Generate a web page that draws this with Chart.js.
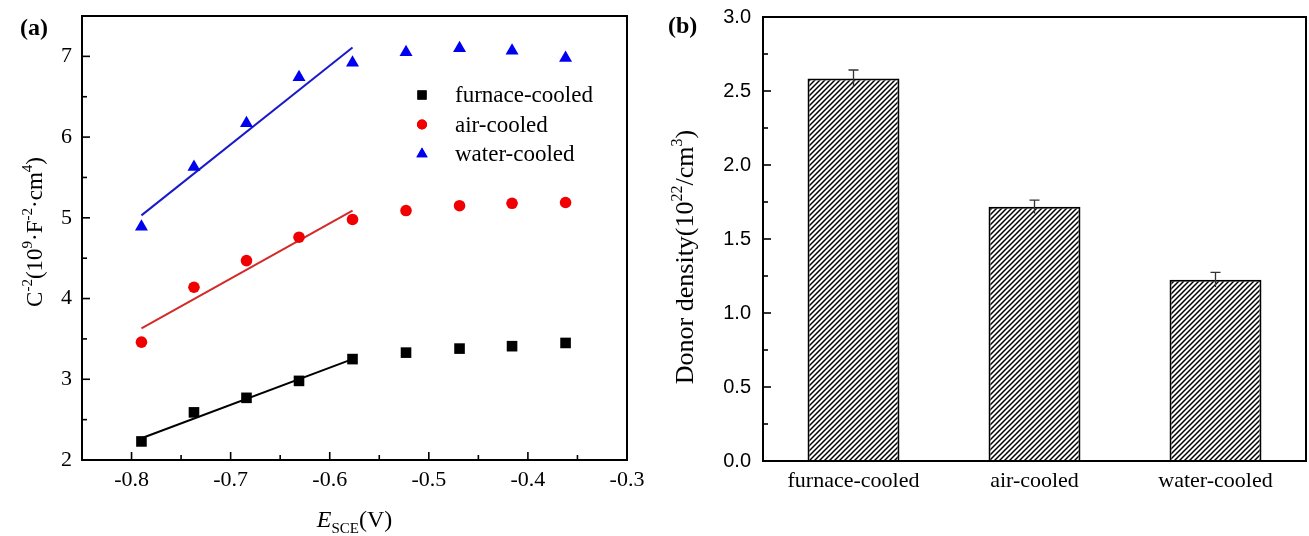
<!DOCTYPE html>
<html>
<head>
<meta charset="utf-8">
<script src="https://cdn.jsdelivr.net/npm/chart.js@4.4.0/dist/chart.umd.min.js"></script>
<style>
  body { margin: 0; background: #fff; width: 1309px; height: 536px; position: relative; overflow: hidden; }
  #wrapA { position: absolute; left: 0; top: 0; width: 660px; height: 536px; }
  #wrapB { position: absolute; left: 660px; top: 0; width: 649px; height: 536px; }
  .tag { position: absolute; font: bold 24px "Liberation Serif", serif; line-height: 1; color: #000; }
</style>
</head>
<body>
<div id="wrapA"><canvas id="chartA" width="660" height="536"></canvas></div>
<div id="wrapB"><canvas id="chartB" width="649" height="536"></canvas></div>
<div class="tag" style="left:20px;top:15px">(a)</div>
<div class="tag" style="left:668px;top:13px">(b)</div>
<script>
// (a) Mott-Schottky data
const potential = [-0.790, -0.737, -0.684, -0.631, -0.577, -0.523, -0.469, -0.416, -0.362];
const furnaceC = [2.23, 2.59, 2.77, 2.98, 3.25, 3.33, 3.38, 3.41, 3.45];
const airC = [3.46, 4.14, 4.47, 4.76, 4.98, 5.09, 5.15, 5.18, 5.19];
const waterC = [4.89, 5.63, 6.17, 6.74, 6.92, 7.05, 7.10, 7.07, 6.98];

// linear fit ends
const fitX = [-0.790, -0.577];
const furnaceFit = [2.27, 3.25];
const airFit = [3.63, 5.09];
const waterFit = [5.03, 7.11];

const xTicks = [-0.8, -0.7, -0.6, -0.5, -0.4, -0.3];
const xMinorTicks = [-0.75, -0.65, -0.55, -0.45, -0.35];
const yTicks = [2, 3, 4, 5, 6, 7];
const yMinorTicks = [2.5, 3.5, 4.5, 5.5, 6.5];

// (b) donor density
const coolingTypes = ['furnace-cooled', 'air-cooled', 'water-cooled'];
const donorDensity = [2.585, 1.718, 1.225];
const donorError = [0.057, 0.045, 0.05];
const densityTicks = [0, 0.5, 1, 1.5, 2, 2.5, 3];
const densityMinorTicks = [0.25, 0.75, 1.25, 1.75, 2.25, 2.75];

const SERIF = '"Liberation Serif", "Times New Roman", serif';
const SANS = '"Liberation Sans", Arial, sans-serif';

function pts(xs, ys) {
    return xs.map((x, i) => ({ x: x, y: ys[i] }));
}

// draws text made of pieces (superscripts, subscripts, italics), centred on x
function drawRich(ctx, parts, x, y, rot) {
    ctx.save();
    ctx.translate(x, y);
    if (rot) ctx.rotate(rot);
    let w = 0;
    parts.forEach(p => { ctx.font = p.f; p.w = ctx.measureText(p.t).width; w += p.w; });
    let cx = -w / 2;
    ctx.textAlign = 'left';
    ctx.textBaseline = 'alphabetic';
    ctx.fillStyle = '#000';
    parts.forEach(p => { ctx.font = p.f; ctx.fillText(p.t, cx, p.dy || 0); cx += p.w; });
    ctx.restore();
}

function hatchPattern() {
    const s = 5;
    const c = document.createElement('canvas');
    c.width = s; c.height = s;
    const g = c.getContext('2d');
    g.fillStyle = '#fff';
    g.fillRect(0, 0, s, s);
    g.strokeStyle = '#000';
    g.lineWidth = 1.5;
    g.beginPath();
    g.moveTo(0, s); g.lineTo(s, 0);
    g.moveTo(-1, 1); g.lineTo(1, -1);
    g.moveTo(s - 1, s + 1); g.lineTo(s + 1, s - 1);
    g.stroke();
    return g.createPattern(c, 'repeat');
}

// box frame plus inward ticks on the bottom and left axes
const framePlugin = {
    id: 'frame',
    afterDatasetsDraw(chart, args, opts) {
        const ctx = chart.ctx;
        const a = chart.chartArea;
        ctx.save();
        ctx.strokeStyle = '#000';
        ctx.lineWidth = 1.6;
        const tick = (axis, vals, len) => {
            vals.forEach(v => {
                ctx.beginPath();
                if (axis === 'x') {
                    const px = chart.scales.x.getPixelForValue(v);
                    ctx.moveTo(px, a.bottom); ctx.lineTo(px, a.bottom - len);
                } else {
                    const py = chart.scales.y.getPixelForValue(v);
                    ctx.moveTo(a.left, py); ctx.lineTo(a.left + len, py);
                }
                ctx.stroke();
            });
        };
        if (opts.xMajor) tick('x', opts.xMajor, 8);
        if (opts.xMinor) tick('x', opts.xMinor, 5);
        if (opts.yMajor) tick('y', opts.yMajor, 8);
        if (opts.yMinor) tick('y', opts.yMinor, 5);
        ctx.lineWidth = 2;
        ctx.strokeRect(a.left, a.top, a.right - a.left, a.bottom - a.top);
        ctx.restore();
    }
};

const titlesA = {
    id: 'titlesA',
    afterDraw(chart) {
        const ctx = chart.ctx;
        const a = chart.chartArea;
        const big = '23px ' + SERIF, small = '15px ' + SERIF;
        drawRich(ctx, [
            { t: 'C', f: big }, { t: '-2', f: small, dy: -10 },
            { t: '(10', f: big }, { t: '9', f: small, dy: -10 },
            { t: '\u00B7F', f: big }, { t: '-2', f: small, dy: -10 },
            { t: '\u00B7cm', f: big }, { t: '4', f: small, dy: -10 },
            { t: ')', f: big }
        ], 42, 232, -Math.PI / 2);
        drawRich(ctx, [
            { t: 'E', f: 'italic 24px ' + SERIF },
            { t: 'SCE', f: '15px ' + SERIF, dy: 6 },
            { t: '(V)', f: '24px ' + SERIF }
        ], (a.left + a.right) / 2, 527);

        // legend inside the plot
        const rows = [0, 1, 2];
        ctx.save();
        ctx.font = '23px ' + SERIF;
        ctx.textBaseline = 'middle';
        ctx.textAlign = 'left';
        rows.forEach(i => {
            const ds = chart.data.datasets[i];
            const y = 95 + i * 29.5;
            ctx.fillStyle = ds.backgroundColor;
            Chart.helpers.drawPoint(ctx, { pointStyle: ds.pointStyle, radius: ds.legendRadius, rotation: 0, borderWidth: 0 }, 422, y);
            ctx.fill();
            ctx.fillStyle = '#000';
            ctx.fillText(ds.label, 455, y + 1);
        });
        ctx.restore();
    }
};

new Chart(document.getElementById('chartA'), {
    type: 'scatter',
    data: {
        datasets: [
            { label: 'furnace-cooled', data: pts(potential, furnaceC), pointStyle: 'rect', pointRadius: 7.5, legendRadius: 6.5, backgroundColor: '#000', borderColor: '#000', borderWidth: 0 },
            { label: 'air-cooled', data: pts(potential, airC), pointStyle: 'circle', pointRadius: 5.8, legendRadius: 5, backgroundColor: '#f00000', borderColor: '#f00000', borderWidth: 0 },
            { label: 'water-cooled', data: pts(potential, waterC), pointStyle: 'triangle', pointRadius: 7.5, legendRadius: 6.5, backgroundColor: '#0000f0', borderColor: '#0000f0', borderWidth: 0 },
            { label: 'furnace fit', data: pts(fitX, furnaceFit), showLine: true, pointRadius: 0, borderColor: '#000', borderWidth: 2 },
            { label: 'air fit', data: pts(fitX, airFit), showLine: true, pointRadius: 0, borderColor: '#d42a2a', borderWidth: 2 },
            { label: 'water fit', data: pts(fitX, waterFit), showLine: true, pointRadius: 0, borderColor: '#1a1ac8', borderWidth: 2 }
        ]
    },
    options: {
        responsive: false,
        animation: false,
        layout: { padding: { top: 16, right: 33, left: 0, bottom: 0 } },
        plugins: {
            legend: { display: false },
            tooltip: { enabled: false },
            frame: { xMajor: xTicks, xMinor: xMinorTicks, yMajor: yTicks, yMinor: yMinorTicks }
        },
        scales: {
            x: {
                type: 'linear',
                min: -0.85,
                max: -0.3,
                grid: { display: false, drawTicks: false },
                border: { display: false },
                afterBuildTicks: s => { s.ticks = xTicks.map(v => ({ value: v })); },
                afterFit: s => { s.height = 76; },
                ticks: { padding: 7, color: '#000', autoSkip: false, maxRotation: 0, font: { family: SERIF, size: 22 }, callback: v => v.toFixed(1) }
            },
            y: {
                type: 'linear',
                min: 2,
                max: 7.5,
                grid: { display: false, drawTicks: false },
                border: { display: false },
                afterBuildTicks: s => { s.ticks = yTicks.map(v => ({ value: v })); },
                afterFit: s => { s.width = 82; s.paddingTop = 0; s.paddingBottom = 0; },
                ticks: { padding: 10, color: '#000', autoSkip: false, font: { family: SERIF, size: 22 }, callback: v => String(v) }
            }
        }
    },
    plugins: [framePlugin, titlesA]
});

const errorBars = {
    id: 'errorBars',
    afterDatasetsDraw(chart) {
        const ctx = chart.ctx;
        const meta = chart.getDatasetMeta(0);
        const ys = chart.scales.y;
        ctx.save();
        ctx.strokeStyle = '#333';
        ctx.lineWidth = 1.3;
        meta.data.forEach((bar, i) => {
            const top = ys.getPixelForValue(donorDensity[i] + donorError[i]);
            const bot = ys.getPixelForValue(donorDensity[i] - donorError[i]);
            ctx.beginPath();
            ctx.moveTo(bar.x, bot); ctx.lineTo(bar.x, top);
            ctx.moveTo(bar.x - 5, top); ctx.lineTo(bar.x + 5, top);
            ctx.stroke();
        });
        ctx.restore();
    }
};

const titlesB = {
    id: 'titlesB',
    afterDraw(chart) {
        const big = '26px ' + SERIF, small = '16px ' + SERIF;
        drawRich(chart.ctx, [
            { t: 'Donor density(10', f: big }, { t: '22', f: small, dy: -11 },
            { t: '/cm', f: big }, { t: '3', f: small, dy: -11 },
            { t: ')', f: big }
        ], 33, 257, -Math.PI / 2);
    }
};

new Chart(document.getElementById('chartB'), {
    type: 'bar',
    data: {
        labels: coolingTypes,
        datasets: [{
            label: 'Donor density',
            data: donorDensity,
            backgroundColor: hatchPattern(),
            borderColor: '#000',
            borderWidth: 2,
            barPercentage: 0.508,
            categoryPercentage: 1
        }]
    },
    options: {
        responsive: false,
        animation: false,
        layout: { padding: { top: 17, right: 3, left: 0, bottom: 0 } },
        plugins: {
            legend: { display: false },
            tooltip: { enabled: false },
            frame: { yMajor: densityTicks, yMinor: densityMinorTicks }
        },
        scales: {
            x: {
                grid: { display: false, drawTicks: false },
                border: { display: false },
                afterFit: s => { s.height = 75; },
                ticks: { padding: 7, color: '#000', maxRotation: 0, font: { family: SERIF, size: 22 } }
            },
            y: {
                min: 0,
                max: 3,
                grid: { display: false, drawTicks: false },
                border: { display: false },
                afterBuildTicks: s => { s.ticks = densityTicks.map(v => ({ value: v })); },
                afterFit: s => { s.width = 103; s.paddingTop = 0; s.paddingBottom = 0; },
                ticks: { padding: 12, color: '#000', autoSkip: false, font: { family: SANS, size: 20 }, callback: v => v.toFixed(1) }
            }
        }
    },
    plugins: [framePlugin, errorBars, titlesB]
});
</script>
</body>
</html>
